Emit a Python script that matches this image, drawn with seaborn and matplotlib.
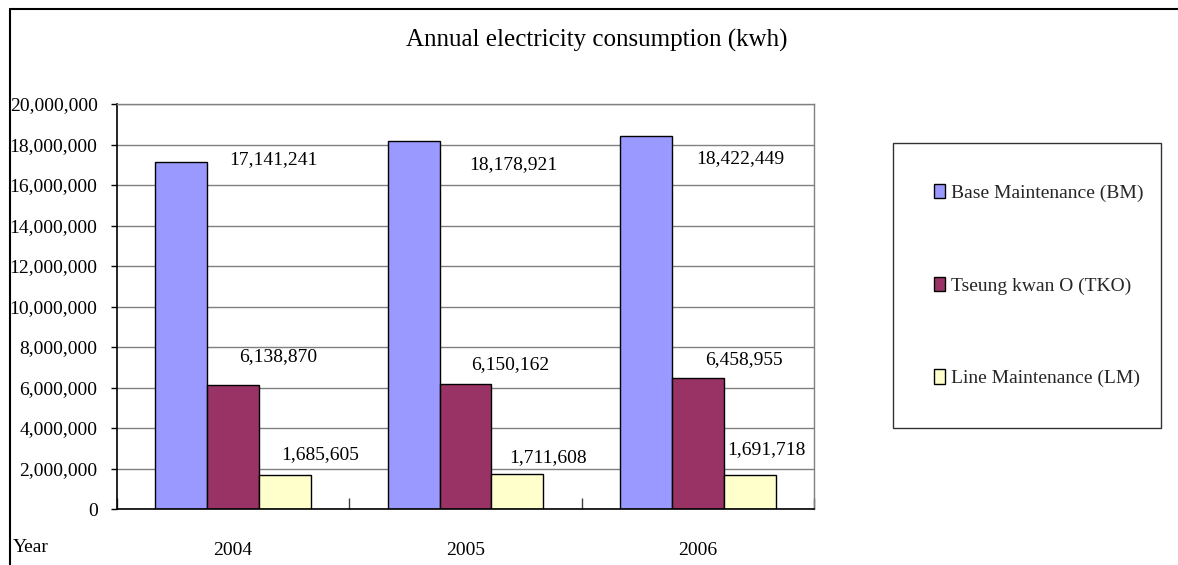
import matplotlib
matplotlib.use("Agg")
import matplotlib.pyplot as plt
import seaborn as sns
import pandas as pd
from matplotlib.lines import Line2D
from matplotlib.patches import Patch
from matplotlib.ticker import FuncFormatter, MultipleLocator

sns.set_theme(style="white")
plt.rcParams['font.family'] = ['Liberation Serif', 'DejaVu Serif']

# data
years = ['2004', '2005', '2006']
series = ['Base Maintenance (BM)', 'Tseung kwan O (TKO)', 'Line Maintenance (LM)']
bm = [17141241, 18178921, 18422449]
tko = [6138870, 6150162, 6458955]
lm = [1685605, 1711608, 1691718]
colors = ['#9999FF', '#993366', '#FFFFCC']

# label offsets (pixels) from each bar top, per series / year
label_offsets = [
    [(92, 2), (100, -24), (94, -23)],
    [(45, 28), (45, 20), (46, 19)],
    [(35, 20), (31, 17), (17, 25)],
]

df = pd.DataFrame({
    'year': years * 3,
    'site': [s for s in series for _ in years],
    'kwh': bm + tko + lm,
})

fig = plt.figure(figsize=(11.78, 5.65), dpi=100)
ax = fig.add_axes([117 / 1178, 1 - 509 / 565, (814 - 117) / 1178, (509 - 104) / 565])

sns.barplot(data=df, x='year', y='kwh', hue='site', hue_order=series, palette=colors,
            width=0.67, edgecolor='black', linewidth=1, saturation=1, ax=ax, legend=False)

ax.set_ylim(0, 20000000)
ax.set_xlim(-0.5, 2.5)
ax.yaxis.set_major_locator(MultipleLocator(2000000))
ax.yaxis.set_major_formatter(FuncFormatter(lambda v, p: f'{int(v):,}'))
ax.yaxis.grid(True, color='#808080', linewidth=1)
ax.set_axisbelow(True)
ax.set_xlabel('')
ax.set_ylabel('')

for s in ['top', 'right']:
    ax.spines[s].set_color('#808080')
    ax.spines[s].set_linewidth(1)
for s in ['left', 'bottom']:
    ax.spines[s].set_color('black')
    ax.spines[s].set_linewidth(1.2)

ax.tick_params(axis='y', which='major', direction='out', length=4, width=1, color='black',
               left=True, labelsize=14, pad=10, labelcolor='black')
ax.tick_params(axis='x', which='major', length=0, labelsize=14, pad=24, labelcolor='black')
ax.set_xticks([-0.5, 0.5, 1.5, 2.5], minor=True)
ax.tick_params(axis='x', which='minor', direction='in', length=8, width=1, color='#404040', bottom=True)

for cont, offs in zip(ax.containers, label_offsets):
    for bar, (dx, dy) in zip(cont, offs):
        h = bar.get_height()
        ax.annotate(f'{int(round(h)):,}', (bar.get_x() + bar.get_width() / 2, h),
                    xytext=(dx, dy), textcoords='offset pixels',
                    ha='center', va='center', fontsize=14, color='black')

handles = [Patch(facecolor=c, edgecolor='black', linewidth=1) for c in colors]
leg = fig.legend(handles, series, loc='upper left',
                 bbox_to_anchor=(893 / 1178, 1 - 143 / 565, (1161 - 893) / 1178, 0),
                 mode='expand', fontsize=14, frameon=True, fancybox=False,
                 borderpad=2.1, labelspacing=3.85, handlelength=0.55, handleheight=0.75,
                 handletextpad=0.35, borderaxespad=0)
leg.get_frame().set_edgecolor('black')
leg.get_frame().set_linewidth(1)

fig.text(597 / 1178, 1 - 40 / 565, 'Annual electricity consumption (kwh)',
         ha='center', va='center', fontsize=18, color='black')
fig.text(13 / 1178, 1 - 548 / 565, 'Year', ha='left', va='center', fontsize=14, color='black')

# outer chart-area border (top and left edges visible)
fig.add_artist(Line2D([10 / 1178, 10 / 1178], [0, 1 - 9 / 565], color='black', linewidth=1.5,
                      transform=fig.transFigure))
fig.add_artist(Line2D([10 / 1178, 1], [1 - 9 / 565, 1 - 9 / 565], color='black', linewidth=1.5,
                      transform=fig.transFigure))

fig.savefig('out.png', dpi=100)
